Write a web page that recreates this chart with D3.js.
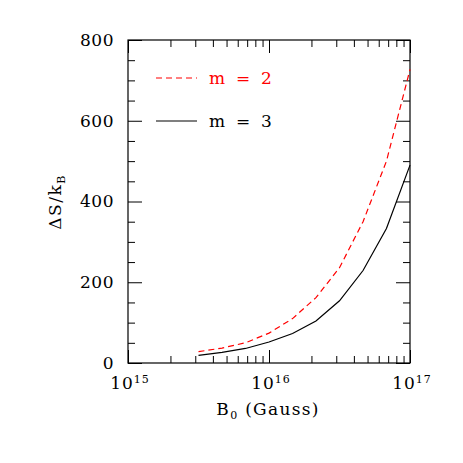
<!DOCTYPE html>
<html>
<head>
<meta charset="utf-8">
<script src="https://cdn.jsdelivr.net/npm/d3@7"></script>
<style>
  body { margin: 0; background: #fff; }
  svg text { font-family: "DejaVu Serif", serif; white-space: pre; }
</style>
</head>
<body>
<svg id="chart" width="463" height="463"></svg>
<script>
// field values (log steps of 1/6 decade from 10^15.5 to 10^17)
var bExp = [15.5, 15.667, 15.833, 16, 16.167, 16.333, 16.5, 16.667, 16.833, 17];
var dsM2 = [28, 37, 50, 74, 110, 162, 236, 350, 500, 727];
var dsM3 = [19, 26.5, 36, 52, 73, 104, 154, 229, 333, 490];

var xMajor = [15, 16, 17];
var yMajor = [0, 200, 400, 600, 800];

var series = [
  { name: "m  =  2", values: dsM2, color: "#ff0000", dash: "6,4" },
  { name: "m  =  3", values: dsM3, color: "#000000", dash: null }
];

var svg = d3.select("#chart");
// note: "top" is taken by window.top, so use plot* names
var plotL = 128, plotR = 410, plotT = 40, plotB = 363;

var x = d3.scaleLog().domain([1e15, 1e17]).range([plotL, plotR]);
var y = d3.scaleLinear().domain([0, 800]).range([plotB, plotT]);

// minor ticks
var xMinor = [];
[1e15, 1e16].forEach(function(d) {
  for (var k = 2; k <= 9; k++) xMinor.push(d * k);
});
var yMinor = d3.range(0, 801, 50).filter(function(v) { return v % 200 != 0; });
var xMaj = xMajor.map(function(e) { return Math.pow(10, e); });

function styleAxis(g) {
  g.select(".domain").remove();
  g.selectAll("line").attr("stroke", "#000").attr("stroke-width", 1);
}

// bottom + top
svg.append("g").attr("transform", "translate(0," + plotB + ")")
  .call(d3.axisBottom(x).tickValues(xMaj).tickSize(-13).tickFormat("")).call(styleAxis);
svg.append("g").attr("transform", "translate(0," + plotB + ")")
  .call(d3.axisBottom(x).tickValues(xMinor).tickSize(-7).tickFormat("")).call(styleAxis);
svg.append("g").attr("transform", "translate(0," + plotT + ")")
  .call(d3.axisTop(x).tickValues(xMaj).tickSize(-13).tickFormat("")).call(styleAxis);
svg.append("g").attr("transform", "translate(0," + plotT + ")")
  .call(d3.axisTop(x).tickValues(xMinor).tickSize(-7).tickFormat("")).call(styleAxis);

// left + right
var yl = svg.append("g").attr("transform", "translate(" + plotL + ",0)")
  .call(d3.axisLeft(y).tickValues(yMajor).tickSize(-14).tickPadding(14));
yl.call(styleAxis);
yl.selectAll("text").attr("font-size", 17).attr("fill", "#000")
  .attr("font-family", "DejaVu Serif").attr("letter-spacing", 0.5);
svg.append("g").attr("transform", "translate(" + plotL + ",0)")
  .call(d3.axisLeft(y).tickValues(yMinor).tickSize(-7).tickFormat("")).call(styleAxis);
svg.append("g").attr("transform", "translate(" + plotR + ",0)")
  .call(d3.axisRight(y).tickValues(yMajor).tickSize(-14).tickFormat("")).call(styleAxis);
svg.append("g").attr("transform", "translate(" + plotR + ",0)")
  .call(d3.axisRight(y).tickValues(yMinor).tickSize(-7).tickFormat("")).call(styleAxis);

// frame
svg.append("rect").attr("x", plotL).attr("y", plotT)
  .attr("width", plotR - plotL).attr("height", plotB - plotT)
  .attr("fill", "none").attr("stroke", "#000").attr("stroke-width", 1.2);

// x tick labels 10^n
var xl = svg.selectAll(".xlab").data(xMajor).enter().append("text")
  .attr("class", "xlab")
  .attr("x", function(d) { return x(Math.pow(10, d)) + 2; })
  .attr("y", 389)
  .attr("text-anchor", "middle")
  .attr("letter-spacing", 1)
  .attr("font-size", 17);
xl.append("tspan").text("10");
xl.append("tspan").attr("font-size", 11).attr("dy", -6).text(function(d) { return d; });

// axis titles
var xt = svg.append("text").attr("x", 268).attr("y", 415)
  .attr("text-anchor", "middle").attr("font-size", 17).attr("letter-spacing", 1.3);
xt.append("tspan").text("B");
xt.append("tspan").attr("font-size", 11).attr("dy", 4).text("0");
xt.append("tspan").attr("dy", -4).text(" (Gauss)");

var yt = svg.append("text")
  .attr("transform", "translate(61,202) rotate(-90)")
  .attr("text-anchor", "middle").attr("font-size", 17).attr("letter-spacing", 1.5);
yt.append("tspan").text("\u0394S/k");
yt.append("tspan").attr("font-size", 11).attr("dy", 4).text("B");

// curves
var line = d3.line()
  .x(function(d, i) { return x(Math.pow(10, bExp[i])); })
  .y(function(d) { return y(d); });

series.forEach(function(s) {
  svg.append("path")
    .datum(s.values)
    .attr("d", line)
    .attr("fill", "none")
    .attr("stroke", s.color)
    .attr("stroke-width", 1.2)
    .attr("stroke-dasharray", s.dash);
});

// legend
var leg = svg.selectAll(".leg").data(series).enter().append("g")
  .attr("class", "leg")
  .attr("transform", function(d, i) { return "translate(156," + (78 + i * 43) + ")"; });
leg.append("line").attr("x1", 0).attr("x2", 41).attr("y1", 0).attr("y2", 0)
  .attr("stroke", function(d) { return d.color; })
  .attr("stroke-width", 1.2)
  .attr("stroke-dasharray", function(d) { return d.dash; });
leg.append("text").attr("x", 53).attr("y", 6).attr("font-size", 17)
  .attr("fill", function(d) { return d.color; })
  .text(function(d) { return d.name; });
</script>
</body>
</html>
